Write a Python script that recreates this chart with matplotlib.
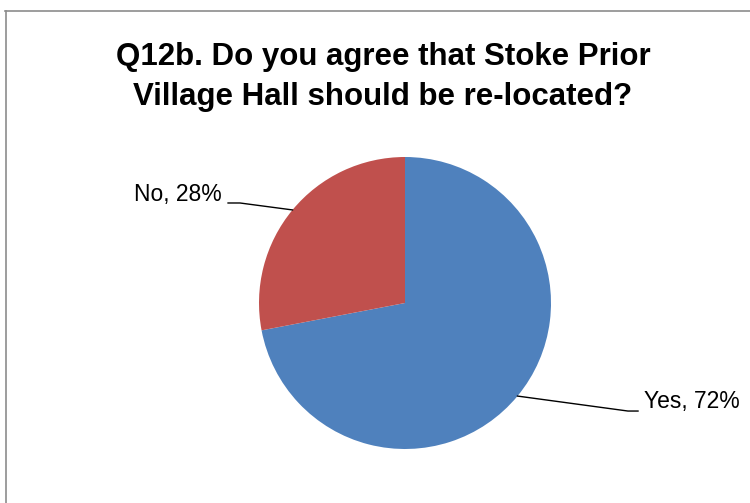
import numpy as np
import matplotlib
matplotlib.use("Agg")
import matplotlib.pyplot as plt
from matplotlib.lines import Line2D

# data
labels = ["Yes", "No"]
shares = [72, 28]
colors = ["#4F81BD", "#C0504D"]
title = "Q12b. Do you agree that Stoke Prior\nVillage Hall should be re-located?"

plt.rcParams['font.family'] = ['Liberation Sans Narrow', 'Liberation Sans', 'DejaVu Sans']

fig = plt.figure(figsize=(7.5, 5.03), dpi=100)

# frame: only top and left edges visible in the crop
fig.add_artist(Line2D([5/750, 1.0], [1 - 11/503, 1 - 11/503], color='#8c8c8c', lw=1.2))
fig.add_artist(Line2D([6/750, 6/750], [0.0, 1 - 11/503], color='#8c8c8c', lw=1.2))

fig.text(383/750, 1 - 77/503, title, ha='center', va='center',
         fontsize=22.5, fontweight='bold', linespacing=1.45)

ax = fig.add_axes([(405 - 146)/750, (503 - 449)/503, 292/750, 292/503])
wedges, _ = ax.pie(shares, colors=colors, startangle=90, counterclock=False,
                   radius=1.0)
ax.set_xlim(-1, 1)
ax.set_ylim(-1, 1)
ax.set_aspect('equal')
ax.axis('off')

# label layout in pie units: text anchor, leader knee x, leader end x, leader y
label_layout = {
    "Yes": dict(tx=1.637, ty=-0.678, knee=1.527, end=1.596, ly=-0.740, ha='left'),
    "No": dict(tx=-1.253, ty=0.74, knee=-1.13, end=-1.212, ly=0.685, ha='right'),
}
for w, lab, s in zip(wedges, labels, shares):
    L = label_layout[lab]
    ang = np.deg2rad((w.theta1 + w.theta2) / 2)
    rx, ry = np.cos(ang), np.sin(ang)
    ax.plot([rx, L['knee'], L['end']], [ry, L['ly'], L['ly']], color='black', lw=1,
            clip_on=False)
    ax.text(L['tx'], L['ty'], f"{lab}, {s}%", ha=L['ha'], va='center', fontsize=16.5,
            clip_on=False)

fig.savefig("out.png", dpi=100)
